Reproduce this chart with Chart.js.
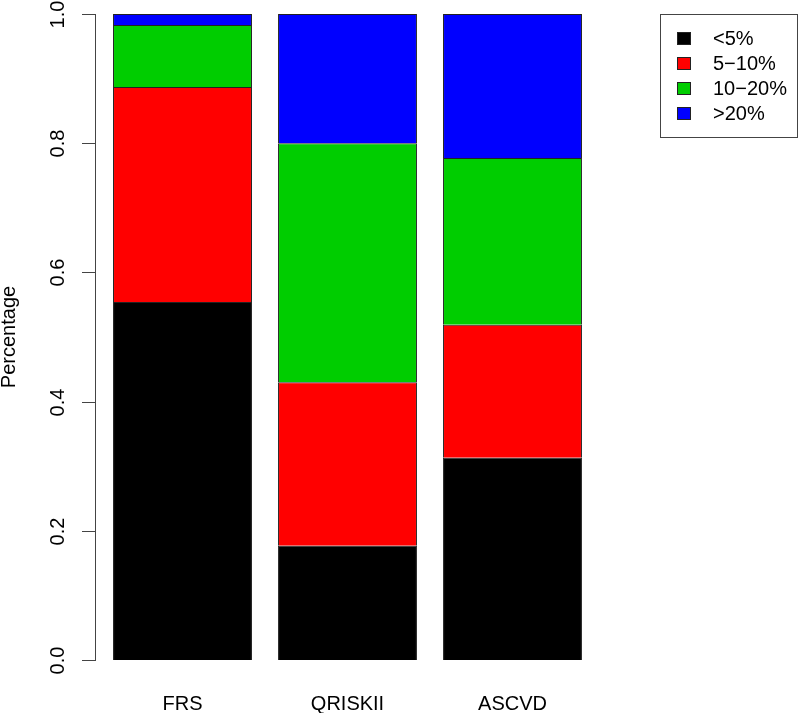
<!DOCTYPE html>
<html>
<head>
<meta charset="utf-8">
<script src="https://cdn.jsdelivr.net/npm/chart.js@4/dist/chart.umd.min.js"></script>
<style>
  html, body { margin: 0; padding: 0; background: #fff; }
  #wrap { width: 800px; height: 713px; }
</style>
</head>
<body>
<div id="wrap"><canvas id="riskChart" width="800" height="713"></canvas></div>
<script>
// Данные графика (доли по категориям риска)
const scores = ['FRS', 'QRISKII', 'ASCVD'];
const riskGroups = ['<5%', '5\u221210%', '10\u221220%', '>20%'];
const lowRisk = [0.554, 0.177, 0.313];
const midRisk = [0.333, 0.253, 0.206];
const highRisk = [0.096, 0.370, 0.258];
const veryHighRisk = [0.017, 0.200, 0.223];
const groupColors = ['#000000', '#FF0000', '#00CD00', '#0000FF'];
const yTicks = [0, 0.2, 0.4, 0.6, 0.8, 1.0];

const FONT = 'Liberation Sans, Arial, Helvetica, sans-serif';

// Ось Y и подпись рисуем сами, в стиле R
const rAxisPlugin = {
    id: 'rAxis',
    afterDraw(chart) {
        const ctx = chart.ctx;
        const y = chart.scales.y;
        const axisX = chart.chartArea.left - 5;
        ctx.save();
        ctx.strokeStyle = '#444';
        ctx.lineWidth = 1;
        ctx.beginPath();
        ctx.moveTo(axisX + 0.5, y.getPixelForValue(0));
        ctx.lineTo(axisX + 0.5, y.getPixelForValue(1));
        ctx.stroke();

        ctx.fillStyle = '#000';
        ctx.font = '20px ' + FONT;
        ctx.textAlign = 'center';
        ctx.textBaseline = 'middle';
        yTicks.forEach(v => {
            const py = Math.round(y.getPixelForValue(v)) + 0.5;
            ctx.beginPath();
            ctx.moveTo(axisX - 13, py);
            ctx.lineTo(axisX + 1, py);
            ctx.stroke();
            ctx.save();
            ctx.translate(58, py);
            ctx.rotate(-Math.PI / 2);
            ctx.fillText(v.toFixed(1), 0, 0);
            ctx.restore();
        });

        // Подпись оси
        ctx.save();
        ctx.translate(9, (y.getPixelForValue(0) + y.getPixelForValue(1)) / 2);
        ctx.rotate(-Math.PI / 2);
        ctx.fillText('Percentage', 0, 0);
        ctx.restore();
        ctx.restore();
    }
};

// Легенда в рамке справа
const boxLegendPlugin = {
    id: 'boxLegend',
    afterDraw(chart) {
        const ctx = chart.ctx;
        ctx.save();
        ctx.strokeStyle = '#444';
        ctx.lineWidth = 1;
        ctx.strokeRect(660.5, 14.5, 137, 123);
        ctx.font = '20px ' + FONT;
        ctx.textAlign = 'left';
        ctx.textBaseline = 'middle';
        chart.data.datasets.forEach((ds, i) => {
            const cy = 38.5 + i * 25;
            ctx.fillStyle = ds.backgroundColor;
            ctx.fillRect(677, cy - 6.5, 14, 13);
            ctx.strokeStyle = '#222';
            ctx.strokeRect(677.5, cy - 6, 13, 12);
            ctx.fillStyle = '#000';
            ctx.fillText(ds.label, 713, cy + 1);
        });
        ctx.restore();
    }
};

const seriesValues = [lowRisk, midRisk, highRisk, veryHighRisk];

new Chart(document.getElementById('riskChart').getContext('2d'), {
    type: 'bar',
    data: {
        labels: scores,
        datasets: riskGroups.map((g, i) => ({
            label: g,
            data: seriesValues[i],
            backgroundColor: groupColors[i],
            borderColor: '#222',
            borderWidth: 1,
            categoryPercentage: 1,
            barPercentage: 0.842
        }))
    },
    options: {
        responsive: false,
        animation: false,
        layout: { padding: { left: 100, right: 205, top: 14, bottom: 0 } },
        plugins: { legend: { display: false }, tooltip: { enabled: false } },
        scales: {
            x: {
                stacked: true,
                grid: { display: false, drawTicks: false },
                border: { display: false },
                ticks: { color: '#000', font: { size: 20, family: FONT }, padding: 32 },
                afterFit(scale) { scale.height = 53; }
            },
            y: {
                stacked: true,
                display: false,
                min: 0,
                max: 1
            }
        }
    },
    plugins: [rAxisPlugin, boxLegendPlugin]
});
</script>
</body>
</html>
